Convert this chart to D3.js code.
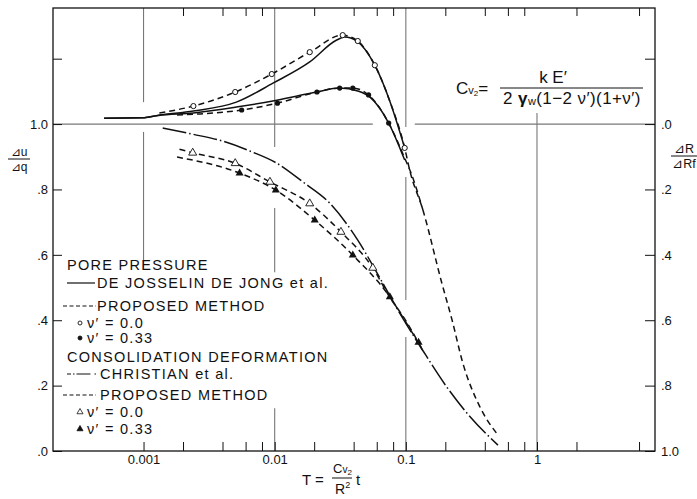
<!DOCTYPE html>
<html>
<head>
<meta charset="utf-8">
<script src="https://cdn.jsdelivr.net/npm/d3@7"></script>
<style>
  body { margin: 0; background: #fff; }
  svg { display: block; font-family: "Liberation Sans", Arial, sans-serif; }
</style>
</head>
<body>
<div class="plot-container"></div>
<script>
// ---- axis extents and ticks
const T_EXTENT = [0.000204, 7.94];
const LEFT_EXTENT = [0, 1.355];
const RIGHT_EXTENT = [1, -0.355];

const xMajorTicks = [0.001, 0.01, 0.1, 1];
const xMajorLabels = ["0.001", "0.01", "0.1", "1"];
const xMinorTicks = [0.002, 0.004, 0.006, 0.008, 0.02, 0.04, 0.06, 0.08, 0.2, 0.4, 0.6, 0.8, 2, 6];

const leftTicks = [0, 0.2, 0.4, 0.6, 0.8, 1.0, 1.2];
const leftLabels = [".0", ".2", ".4", ".6", ".8", "1.0", ""];
const rightTicks = [-0.2, 0, 0.2, 0.4, 0.6, 0.8, 1.0];
const rightLabels = ["", ".0", ".2", ".4", ".6", ".8", "1.0"];

// grid segments [T, from, to] in du/dq units (the printed grid is broken)
const vGridSegments = [
  [0.001, 1.355, 1.067], [0.001, 0.976, 0.56],
  [0.01, 1.355, 0.93], [0.01, 0.743, 0.547], [0.01, 0.131, 0],
  [0.1, 1.355, 0.991], [0.1, 0.838, 0.462], [0.1, 0.349, 0],
  [1, 1.034, 0]
];
const hGridSegments = [[0.000204, 0.056], [0.117, 7.94]];

// ---- pore pressure, du/dq (left axis)
const poreSolidNu0 = [[0.0005, 1.018], [0.00098, 1.019], [0.0013, 1.027], [0.0024, 1.040], [0.0051, 1.067],
  [0.0097, 1.125], [0.0185, 1.190], [0.0297, 1.257], [0.0342, 1.266], [0.0423, 1.254], [0.058, 1.180],
  [0.0755, 1.07], [0.098, 0.927]];
const poreSolidNu033 = [[0.0005, 1.018], [0.00098, 1.019], [0.0013, 1.026], [0.0024, 1.034], [0.0051, 1.052],
  [0.0104, 1.073], [0.0209, 1.098], [0.0313, 1.110], [0.043, 1.101], [0.053, 1.083], [0.074, 1.003],
  [0.098, 0.890]];
const poreDashNu0 = [[0.00132, 1.034], [0.0024, 1.055], [0.005, 1.098], [0.0095, 1.153], [0.0185, 1.220],
  [0.033, 1.272], [0.043, 1.254], [0.058, 1.180], [0.0755, 1.07], [0.098, 0.927], [0.107, 0.859],
  [0.135, 0.737], [0.188, 0.514], [0.225, 0.401], [0.272, 0.269], [0.367, 0.135], [0.504, 0.049]];
const poreDashNu033 = [[0.0018, 1.028], [0.0027, 1.031], [0.0056, 1.043], [0.0105, 1.064], [0.021, 1.098],
  [0.0313, 1.110], [0.0394, 1.110], [0.052, 1.089], [0.074, 1.003], [0.098, 0.896], [0.111, 0.844],
  [0.135, 0.737]];
const poreMarksNu0 = [[0.0024, 1.055], [0.005, 1.098], [0.0095, 1.153], [0.0185, 1.220], [0.033, 1.272],
  [0.043, 1.254], [0.058, 1.180], [0.098, 0.927]];
const poreMarksNu033 = [[0.0056, 1.043], [0.0105, 1.064], [0.021, 1.098], [0.0313, 1.110], [0.0394, 1.110],
  [0.052, 1.089], [0.074, 1.003]];

// ---- consolidation deformation, dR/dRf (right axis)
const christian = [[0.0014, 0.012], [0.00237, 0.031], [0.004, 0.052], [0.0068, 0.086], [0.0103, 0.119],
  [0.0164, 0.177], [0.0263, 0.242], [0.043, 0.355], [0.0634, 0.471], [0.0944, 0.593], [0.134, 0.691],
  [0.205, 0.804], [0.292, 0.884], [0.504, 0.982]];
const consDashNu0 = [[0.00188, 0.077], [0.00237, 0.088], [0.005, 0.120], [0.0092, 0.177], [0.0185, 0.243],
  [0.032, 0.330], [0.056, 0.44], [0.0755, 0.53], [0.098, 0.596], [0.134, 0.691]];
const consDashNu033 = [[0.0018, 0.101], [0.0054, 0.150], [0.0102, 0.202], [0.0202, 0.294], [0.0394, 0.401],
  [0.0755, 0.529], [0.098, 0.600], [0.134, 0.691]];
const consMarksNu0 = [[0.00237, 0.088], [0.005, 0.120], [0.0092, 0.177], [0.0185, 0.243], [0.032, 0.330],
  [0.056, 0.44]];
const consMarksNu033 = [[0.0054, 0.150], [0.0102, 0.202], [0.0202, 0.294], [0.0394, 0.401], [0.0755, 0.529],
  [0.125, 0.668]];

const INK = "#111";
const GRID = "#777";
const DASH = "6,4";
const DASH_DOT = "24,3,1.5,3";

const width = 697, height = 499;
const svg = d3.select("div.plot-container").append("svg")
  .attr("width", width).attr("height", height);

const x = d3.scaleLog().domain(T_EXTENT).range([53, 655]);
const yLeft = d3.scaleLinear().domain(LEFT_EXTENT).range([451, 8]);
const yRight = d3.scaleLinear().domain(RIGHT_EXTENT).range([451, 8]);

// grid
svg.append("g").selectAll("line").data(vGridSegments).enter().append("line")
  .attr("x1", d => x(d[0])).attr("x2", d => x(d[0]))
  .attr("y1", d => yLeft(d[1])).attr("y2", d => yLeft(d[2]))
  .attr("stroke", GRID).attr("stroke-width", 1.1);
svg.append("g").selectAll("line").data(hGridSegments).enter().append("line")
  .attr("x1", d => x(d[0])).attr("x2", d => x(d[1]))
  .attr("y1", yLeft(1)).attr("y2", yLeft(1))
  .attr("stroke", GRID).attr("stroke-width", 1.3);

// axes
const xLabel = new Map(xMajorTicks.map((t, i) => [t, xMajorLabels[i]]));
const styleAxis = g => {
  g.select(".domain").remove();
  g.selectAll(".tick line").attr("stroke", INK).attr("stroke-width", 1);
  g.selectAll(".tick text").attr("fill", INK);
  g.attr("font-size", 13).attr("font-family", "Liberation Sans, Arial, sans-serif");
};
svg.append("g").attr("transform", `translate(0,${yLeft(0)})`)
  .call(d3.axisBottom(x).tickValues(xMajorTicks.concat(xMinorTicks))
    .tickSizeInner(-9).tickSizeOuter(0).tickPadding(4)
    .tickFormat(d => xLabel.get(d) || ""))
  .call(styleAxis);
svg.append("g").attr("transform", `translate(0,${yLeft(LEFT_EXTENT[1])})`)
  .call(d3.axisTop(x).tickValues(xMinorTicks).tickSizeInner(-8).tickSizeOuter(0).tickFormat(""))
  .call(styleAxis);
svg.append("g").attr("transform", `translate(${x(T_EXTENT[0])},0)`)
  .call(d3.axisLeft(yLeft).tickValues(leftTicks).tickSizeInner(-9).tickSizeOuter(0).tickPadding(5)
    .tickFormat((d, i) => leftLabels[i]))
  .call(styleAxis);
svg.append("g").attr("transform", `translate(${x(T_EXTENT[1])},0)`)
  .call(d3.axisRight(yRight).tickValues(rightTicks).tickSizeInner(-10).tickSizeOuter(0).tickPadding(6)
    .tickFormat((d, i) => rightLabels[i]))
  .call(styleAxis);

// frame
svg.append("rect")
  .attr("x", x(T_EXTENT[0])).attr("y", yLeft(LEFT_EXTENT[1]))
  .attr("width", x(T_EXTENT[1]) - x(T_EXTENT[0]))
  .attr("height", yLeft(0) - yLeft(LEFT_EXTENT[1]))
  .attr("fill", "none").attr("stroke", INK).attr("stroke-width", 1.3);

// curves
const lineLeft = d3.line().x(d => x(d[0])).y(d => yLeft(d[1])).curve(d3.curveMonotoneX);
const lineRight = d3.line().x(d => x(d[0])).y(d => yRight(d[1])).curve(d3.curveMonotoneX);
const curves = [
  [poreSolidNu0, lineLeft, null],
  [poreSolidNu033, lineLeft, null],
  [poreDashNu0, lineLeft, DASH],
  [poreDashNu033, lineLeft, DASH],
  [christian, lineRight, DASH_DOT],
  [consDashNu0, lineRight, DASH],
  [consDashNu033, lineRight, DASH]
];
svg.append("g").selectAll("path").data(curves).enter().append("path")
  .attr("d", d => d[1](d[0]))
  .attr("fill", "none").attr("stroke", INK).attr("stroke-width", 1.5)
  .attr("stroke-dasharray", d => d[2]);

// markers
const marks = svg.append("g");
marks.selectAll("circle.open").data(poreMarksNu0).enter().append("circle")
  .attr("cx", d => x(d[0])).attr("cy", d => yLeft(d[1])).attr("r", 2.6)
  .attr("fill", "#fff").attr("stroke", INK).attr("stroke-width", 1);
marks.selectAll("circle.filled").data(poreMarksNu033).enter().append("circle")
  .attr("cx", d => x(d[0])).attr("cy", d => yLeft(d[1])).attr("r", 2.6)
  .attr("fill", INK);
const tri = d3.symbol().type(d3.symbolTriangle).size(28);
marks.selectAll("path.open").data(consMarksNu0).enter().append("path")
  .attr("d", tri).attr("transform", d => `translate(${x(d[0])},${yRight(d[1])})`)
  .attr("fill", "#fff").attr("stroke", INK).attr("stroke-width", 0.9);
marks.selectAll("path.filled").data(consMarksNu033).enter().append("path")
  .attr("d", tri).attr("transform", d => `translate(${x(d[0])},${yRight(d[1])})`)
  .attr("fill", INK);

// axis titles
function fraction(g, cx, top, bottom, lineY, halfWidth, size) {
  g.append("text").attr("x", cx).attr("y", lineY - 3).attr("text-anchor", "middle")
    .attr("font-size", size).text(top);
  g.append("line").attr("x1", cx - halfWidth).attr("x2", cx + halfWidth)
    .attr("y1", lineY).attr("y2", lineY).attr("stroke", INK).attr("stroke-width", 1);
  g.append("text").attr("x", cx).attr("y", lineY + 11.5).attr("text-anchor", "middle")
    .attr("font-size", size).text(bottom);
}
const titles = svg.append("g").attr("fill", INK);
fraction(titles, 19, "⊿u", "⊿q", 159, 11, 12);
fraction(titles, 684, "⊿R", "⊿Rf", 156, 13, 12.5);

const xt = svg.append("g").attr("fill", INK).attr("font-size", 15);
xt.append("text").attr("x", 302).attr("y", 485).text("T =");
const cvx = xt.append("text").attr("x", 333).attr("y", 473).attr("font-size", 13);
cvx.append("tspan").text("C");
cvx.append("tspan").attr("font-size", 10).text("v");
cvx.append("tspan").attr("font-size", 8).attr("dy", 2).text("2");
xt.append("line").attr("x1", 332).attr("x2", 352).attr("y1", 478).attr("y2", 478)
  .attr("stroke", INK).attr("stroke-width", 1);
const r2 = xt.append("text").attr("x", 335).attr("y", 494).attr("font-size", 14);
r2.append("tspan").text("R");
r2.append("tspan").attr("font-size", 9).attr("dy", -6).text("2");
xt.append("text").attr("x", 356).attr("y", 485).text("t");

// formula
const fm = svg.append("g").attr("fill", INK).attr("font-size", 17);
const lhs = fm.append("text").attr("x", 456).attr("y", 94);
lhs.append("tspan").text("C");
lhs.append("tspan").attr("font-size", 11).text("v");
lhs.append("tspan").attr("font-size", 8).attr("dy", 2).text("2");
lhs.append("tspan").attr("dy", -2).text("=");
fm.append("text").attr("x", 553).attr("y", 83).attr("text-anchor", "middle").text("k E′");
fm.append("line").attr("x1", 500).attr("x2", 643).attr("y1", 88).attr("y2", 88)
  .attr("stroke", INK).attr("stroke-width", 1);
const den = fm.append("text").attr("x", 572).attr("y", 104).attr("text-anchor", "middle")
  .attr("letter-spacing", 0.4);
den.append("tspan").text("2 ");
den.append("tspan").attr("font-weight", "bold").text("γ");
den.append("tspan").attr("font-size", 11).attr("dy", 1).text("w");
den.append("tspan").attr("dy", -1).text("(1−2 ν′)(1+ν′)");

// legend
const LEG_X = 67;
const legend = svg.append("g").attr("fill", INK).attr("font-size", 14.5);
const legendRows = [
  { y: 270, text: "PORE PRESSURE", x: LEG_X },
  { y: 288, text: "DE JOSSELIN DE JONG et al.", x: 97, line: [67, 95, null] },
  { y: 311, text: "PROPOSED METHOD", x: 97, line: [63, 96, "4,2.5"] },
  { y: 328, text: "ν′ = 0.0", x: 87, mark: "openCircle" },
  { y: 343, text: "ν′ = 0.33", x: 87, mark: "filledCircle" },
  { y: 362, text: "CONSOLIDATION DEFORMATION", x: LEG_X },
  { y: 379, text: "CHRISTIAN et al.", x: 100, line: [67, 96, "4,2,1.5,2,14"] },
  { y: 400, text: "PROPOSED METHOD", x: 100, line: [63, 96, "4,2.5"] },
  { y: 417, text: "ν′ = 0.0", x: 87, mark: "openTri" },
  { y: 434, text: "ν′ = 0.33", x: 87, mark: "filledTri" }
];
legendRows.forEach(r => {
  legend.append("text").attr("x", r.x).attr("y", r.y).attr("letter-spacing", 1.3).text(r.text);
  if (r.line) {
    legend.append("line").attr("x1", r.line[0]).attr("x2", r.line[1])
      .attr("y1", r.y - 5).attr("y2", r.y - 5)
      .attr("stroke", INK).attr("stroke-width", 1.2).attr("stroke-dasharray", r.line[2]);
  }
  if (r.mark) {
    const cy = r.y - 5;
    if (r.mark === "openCircle" || r.mark === "filledCircle") {
      legend.append("circle").attr("cx", 80).attr("cy", cy).attr("r", 2)
        .attr("fill", r.mark === "openCircle" ? "#fff" : INK)
        .attr("stroke", INK).attr("stroke-width", 0.9);
    } else {
      legend.append("path").attr("d", d3.symbol().type(d3.symbolTriangle).size(16))
        .attr("transform", `translate(80,${cy})`)
        .attr("fill", r.mark === "openTri" ? "#fff" : INK)
        .attr("stroke", INK).attr("stroke-width", 0.8);
    }
  }
});
</script>
</body>
</html>
